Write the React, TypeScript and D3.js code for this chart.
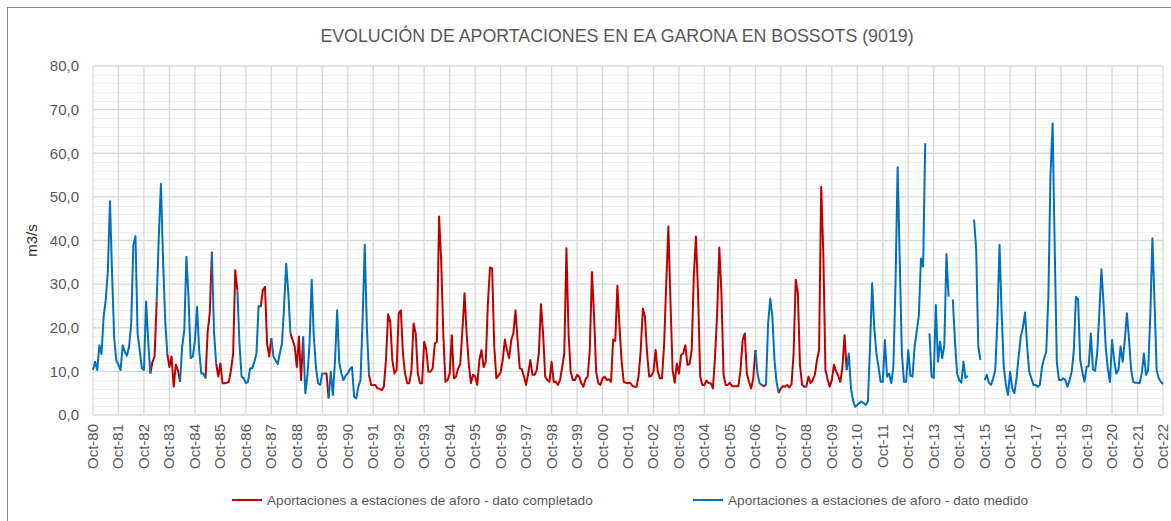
import React, { useRef, useEffect } from 'react';
import * as d3 from 'd3';

// Caudal medio mensual (m3/s), año hidrológico oct-sep
const caudal1980s: (number | null)[] = [
  10.3, 12.2, 10.3, 16.0, 14.0, 22.5, 26.4, 33.0, 49.0, 32.0, 17.5, 12.5,
  11.5, 10.3, 16.0, 14.5, 13.6, 15.7, 21.0, 39.0, 41.0, 18.7, 14.9, 10.7,
  10.3, 26.0, 17.0, 9.5, 12.2, 13.4, 26.0, 41.0, 53.0, 35.5, 21.8, 14.0,
  11.0, 13.4, 6.5, 11.5, 10.3, 7.6, 15.7, 19.5, 36.3, 27.0, 13.0, 13.4,
  17.0, 24.8, 14.9, 9.5, 9.5, 8.4, 19.0, 23.3, 37.4, 19.0, 11.8, 8.8,
  11.8, 7.3, 7.3, 7.4, 7.6, 10.3, 14.0, 33.2, 28.6, 16.4, 8.8, 8.4,
  7.3, 7.6, 10.7, 10.7, 12.2, 14.1, 25.0, 24.8, 28.6, 29.4, 16.4, 13.4,
  17.6, 13.4, 12.5, 11.7, 14.1, 16.4, 24.8, 34.6, 27.9, 18.7, 17.2, 15.7,
  11.0, 18.0, 8.0, 18.0, 5.0, 9.0, 16.4, 31.0, 18.0, 11.0, 7.3, 6.9,
  9.5, 9.5, 9.5, 3.8, 9.9, 4.6, 12.5, 24.0, 12.0, 9.5, 8.0, 9.0,
];

const caudal1990s: (number | null)[] = [
  9.5, 10.5, 11.0, 4.2, 3.8, 6.5, 8.0, 22.0, 39.0, 20.0, 9.2, 6.9,
  6.9, 6.9, 6.1, 6.0, 5.7, 6.5, 12.6, 23.1, 21.4, 12.6, 9.5, 10.3,
  23.3, 24.0, 14.0, 9.5, 7.3, 7.3, 10.3, 21.0, 18.7, 9.5, 7.3, 7.3,
  16.8, 14.9, 9.9, 9.9, 10.7, 16.4, 16.8, 45.5, 35.5, 18.7, 7.6, 8.0,
  9.5, 18.3, 8.4, 8.8, 10.7, 11.7, 19.5, 27.9, 18.5, 11.8, 7.3, 9.2,
  8.8, 6.9, 12.6, 14.9, 11.0, 12.2, 25.6, 33.8, 33.6, 15.7, 8.4, 9.0,
  9.8, 12.6, 17.3, 14.9, 13.0, 17.2, 18.7, 24.0, 17.2, 10.7, 10.5, 8.8,
  6.9, 9.5, 12.6, 9.2, 9.2, 10.3, 14.1, 25.4, 18.7, 8.8, 8.0, 7.6,
  12.2, 7.6, 7.6, 6.9, 8.0, 11.0, 14.1, 38.2, 18.7, 9.9, 8.0, 8.0,
  9.2, 8.8, 7.3, 6.5, 8.2, 8.8, 14.9, 32.8, 23.0, 9.9, 7.3, 6.9,
];

const caudal2000s: (number | null)[] = [
  8.4, 8.8, 8.0, 8.2, 7.6, 17.3, 17.0, 29.6, 20.2, 12.2, 7.6, 7.4,
  7.3, 7.4, 6.7, 6.5, 6.4, 9.0, 14.9, 24.4, 22.5, 14.1, 8.8, 9.0,
  10.0, 14.9, 10.0, 8.4, 8.4, 16.0, 30.0, 43.2, 26.0, 10.3, 7.4, 11.8,
  9.5, 13.8, 14.1, 16.0, 11.5, 11.7, 14.9, 32.0, 40.9, 28.0, 8.8, 6.9,
  6.9, 7.9, 7.3, 7.3, 6.1, 13.4, 23.3, 38.4, 28.0, 9.2, 6.9, 6.9,
  7.4, 6.6, 6.6, 6.6, 6.6, 10.3, 17.2, 18.7, 9.5, 7.6, 6.1, 8.4,
  14.9, 9.5, 7.3, 6.9, 6.6, 6.9, 21.0, 26.7, 22.5, 12.5, 7.5, 5.0,
  6.1, 6.6, 6.5, 6.9, 6.3, 7.0, 14.1, 31.0, 28.0, 11.5, 6.9, 6.5,
  6.5, 8.8, 7.3, 8.0, 9.2, 12.6, 14.9, 52.3, 37.0, 10.3, 8.2, 6.5,
  8.0, 11.5, 10.0, 9.0, 7.6, 11.0, 18.3, 10.3, 14.1, 6.1, 3.4, 1.9,
];

const caudal2010s: (number | null)[] = [
  2.3, 2.8, 3.1, 2.7, 2.3, 3.1, 15.7, 30.2, 20.0, 14.1, 11.0, 7.6,
  7.6, 17.2, 8.8, 9.5, 7.3, 11.0, 30.0, 56.8, 35.5, 14.0, 7.6, 7.6,
  14.9, 9.0, 8.8, 15.7, 19.1, 22.9, 35.9, 34.0, 62.3, null, 18.7, 8.8,
  8.5, 25.2, 12.2, 16.8, 13.0, 16.0, 36.9, 27.1, null, 26.5, 17.0, 9.5,
  8.0, 7.4, 12.2, 8.5, 9.0, null, null, 44.8, 38.0, 15.7, 12.6, null,
  8.0, 9.2, 7.4, 6.9, 8.4, 10.3, 21.8, 39.0, 23.3, 11.0, 6.9, 4.6,
  9.9, 6.1, 5.0, 8.4, 13.4, 18.0, 20.0, 23.5, 15.7, 9.9, 8.4, 6.9,
  6.9, 6.5, 6.9, 11.0, 13.0, 14.5, 27.0, 55.0, 66.8, 38.0, 12.0, 8.0,
  8.0, 8.4, 8.0, 6.5, 8.0, 9.9, 14.9, 27.1, 26.5, 12.6, 9.9, 7.6,
  11.0, 11.2, 18.7, 10.5, 10.1, 14.1, 23.3, 33.4, 25.5, 15.7, 10.5, 7.6,
];

const caudal2020s: (number | null)[] = [
  17.2, 12.6, 9.5, 10.3, 15.7, 12.2, 17.2, 23.3, 17.2, 10.3, 7.6, 7.4,
  7.4, 7.3, 9.5, 14.1, 9.2, 10.3, 22.5, 40.5, 26.0, 10.3, 8.4, 7.6,
  7.1,
];

// Tramos (índices de mes) con dato medido; el resto hasta finCompletado es dato completado
const tramosMedidos: [number, number][] = [
  [0, 27], [30, 35], [41, 53], [56, 58], [68, 79], [84, 93], [99, 109],
  [111, 130], [312, 315], [317, 323], [355, 504],
];
const finCompletado = 355;

const etiquetasX = [
  'Oct-80', 'Oct-81', 'Oct-82', 'Oct-83', 'Oct-84', 'Oct-85', 'Oct-86', 'Oct-87', 'Oct-88',
  'Oct-89', 'Oct-90', 'Oct-91', 'Oct-92', 'Oct-93', 'Oct-94', 'Oct-95', 'Oct-96', 'Oct-97',
  'Oct-98', 'Oct-99', 'Oct-00', 'Oct-01', 'Oct-02', 'Oct-03', 'Oct-04', 'Oct-05', 'Oct-06',
  'Oct-07', 'Oct-08', 'Oct-09', 'Oct-10', 'Oct-11', 'Oct-12', 'Oct-13', 'Oct-14', 'Oct-15',
  'Oct-16', 'Oct-17', 'Oct-18', 'Oct-19', 'Oct-20', 'Oct-21', 'Oct-22',
];

const titulo = 'EVOLUCIÓN DE APORTACIONES EN EA GARONA EN BOSSOTS (9019)';
const leyendaCompletado = 'Aportaciones a estaciones de aforo - dato completado';
const leyendaMedido = 'Aportaciones a estaciones de aforo - dato medido';

const ROJO = '#C00000';
const AZUL = '#0070C0';
const GRIS_TEXTO = '#595959';
const FUENTE = '"Liberation Sans", Arial, sans-serif';

const App = () => {
  const svgRef = useRef<SVGSVGElement>(null);
  const width = 1171;
  const height = 521;

  useEffect(() => {
    const svg = d3.select(svgRef.current);
    svg.selectAll('*').remove();

    const caudal = [...caudal1980s, ...caudal1990s, ...caudal2000s, ...caudal2010s, ...caudal2020s];
    const n = caudal.length - 1;

    const plot = { left: 93, right: 1163, top: 66, bottom: 415 };

    const x = d3.scaleLinear().domain([0, n]).range([plot.left, plot.right]);
    const y = d3.scaleLinear().domain([0, 80]).range([plot.bottom, plot.top]);

    svg.append('rect')
      .attr('width', width).attr('height', height).attr('fill', '#fff');

    // marco del gráfico
    svg.append('rect')
      .attr('x', 7.5).attr('y', 7.5)
      .attr('width', width + 10).attr('height', height + 10)
      .attr('fill', 'none').attr('stroke', '#8c8c8c').attr('stroke-width', 1);

    // rejilla secundaria
    const menores = d3.range(0, 81, 2).filter(v => v % 10 !== 0);
    svg.append('g').selectAll('line')
      .data(menores).enter().append('line')
      .attr('x1', plot.left).attr('x2', plot.right)
      .attr('y1', d => Math.round(y(d)) + 0.5).attr('y2', d => Math.round(y(d)) + 0.5)
      .attr('stroke', '#efefef').attr('stroke-width', 1);

    // rejilla principal
    const mayores = d3.range(0, 81, 10);
    svg.append('g').selectAll('line')
      .data(mayores).enter().append('line')
      .attr('x1', plot.left).attr('x2', plot.right)
      .attr('y1', d => y(d)).attr('y2', d => y(d))
      .attr('stroke', '#d9d9d9').attr('stroke-width', 1.3);

    const ticksX = etiquetasX.map((_, i) => i * 12);
    svg.append('g').selectAll('line')
      .data(ticksX).enter().append('line')
      .attr('x1', d => x(d)).attr('x2', d => x(d))
      .attr('y1', plot.top).attr('y2', plot.bottom)
      .attr('stroke', '#d9d9d9').attr('stroke-width', 1.3);

    // etiquetas eje Y
    const yAxis = d3.axisLeft(y)
      .tickValues(mayores)
      .tickSize(0)
      .tickPadding(14)
      .tickFormat(d => d3.format('.1f')(d as number).replace('.', ','));
    const gy = svg.append('g')
      .attr('transform', `translate(${plot.left},0)`)
      .call(yAxis);
    gy.select('.domain').remove();
    gy.selectAll('text')
      .attr('font-family', FUENTE).attr('font-size', 15).attr('fill', GRIS_TEXTO);

    // etiquetas eje X
    svg.append('g').selectAll('text')
      .data(etiquetasX).enter().append('text')
      .attr('transform', (_, i) => `translate(${x(i * 12) + 5},${plot.bottom + 9}) rotate(-90)`)
      .attr('text-anchor', 'end')
      .attr('font-family', FUENTE).attr('font-size', 15).attr('fill', GRIS_TEXTO)
      .text(d => d);

    // título eje Y
    svg.append('text')
      .attr('transform', `translate(37,${(plot.top + plot.bottom) / 2}) rotate(-90)`)
      .attr('text-anchor', 'middle')
      .attr('font-family', FUENTE).attr('font-size', 15).attr('fill', '#333')
      .text('m3/s');

    // título
    svg.append('text')
      .attr('x', 617).attr('y', 42)
      .attr('text-anchor', 'middle')
      .attr('font-family', FUENTE).attr('font-size', 17.8).attr('fill', GRIS_TEXTO)
      .text(titulo);

    const linea = d3.line<number>()
      .defined(i => caudal[i] !== null)
      .x(i => x(i))
      .y(i => y(caudal[i] as number));

    // tramos de dato completado: entre tramos medidos
    const tramosCompletados: [number, number][] = [];
    for (let k = 0; k < tramosMedidos.length - 1; k++) {
      const a = tramosMedidos[k][1];
      const b = Math.min(tramosMedidos[k + 1][0], finCompletado);
      if (a < finCompletado) tramosCompletados.push([a, b]);
    }

    const series = [
      { tramos: tramosCompletados, color: ROJO },
      { tramos: tramosMedidos, color: AZUL },
    ];
    series.forEach(s => {
      svg.append('g').selectAll('path')
        .data(s.tramos).enter().append('path')
        .attr('d', ([a, b]) => linea(d3.range(a, b + 1)))
        .attr('fill', 'none')
        .attr('stroke', s.color)
        .attr('stroke-width', 2)
        .attr('stroke-linejoin', 'round');
    });

    // leyenda
    const leyenda = [
      { x: 232, texto: leyendaCompletado, color: ROJO },
      { x: 693, texto: leyendaMedido, color: AZUL },
    ];
    const gl = svg.append('g');
    leyenda.forEach(l => {
      gl.append('line')
        .attr('x1', l.x).attr('x2', l.x + 30)
        .attr('y1', 500).attr('y2', 500)
        .attr('stroke', l.color).attr('stroke-width', 2);
      gl.append('text')
        .attr('x', l.x + 35).attr('y', 504.5)
        .attr('font-family', FUENTE).attr('font-size', 13.6).attr('fill', GRIS_TEXTO)
        .text(l.texto);
    });
  }, []);

  return (
    <div style={{ position: 'absolute', left: 0, top: 0 }}>
      <svg ref={svgRef} width={width} height={height} style={{ display: 'block' }}></svg>
    </div>
  );
};

export default App;
